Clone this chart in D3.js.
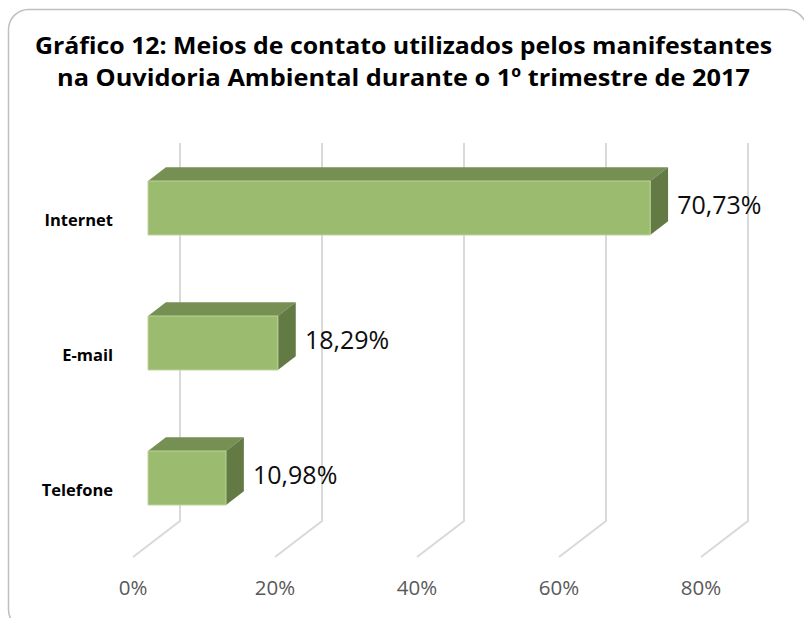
<!DOCTYPE html>
<html>
<head>
<meta charset="utf-8">
<script src="https://cdn.jsdelivr.net/npm/d3@7"></script>
<style>
  html, body { margin: 0; padding: 0; background: #fff; }
  svg { display: block; }
</style>
</head>
<body>
<svg id="chart" width="804" height="618"></svg>
<script>
// ---- data ----
const categories = ["Internet", "E-mail", "Telefone"];
const values = [70.73, 18.29, 10.98];
const valueLabels = ["70,73%", "18,29%", "10,98%"];
const tickValues = [0, 20, 40, 60, 80];
const tickLabels = ["0%", "20%", "40%", "60%", "80%"];
const titleLines = [
  "Gráfico 12: Meios de contato utilizados pelos manifestantes",
  "na Ouvidoria Ambiental durante o 1º trimestre de 2017"
];

// ---- layout ----
const W = 804, H = 618;
const svg = d3.select("#chart");
const font = "'Open Sans', 'DejaVu Sans', sans-serif";

// 3D projection parameters
const DX = 47, DY = -36;          // full depth offset (front -> back)
const floorY = 557;               // front floor line
const wallTop = 143;              // top of back wall
const x = d3.scaleLinear().domain([0, 80]).range([133, 133 + 568]);
const y = d3.scaleBand().domain(categories).range([152, floorY])
  .paddingInner(0.6).paddingOuter(0.3);
const f1 = 0.32, f2 = 0.70;       // bar depth fractions

function P(v, yy, f) { return [x(v) + f * DX, yy + f * DY]; }

// border
svg.append("rect")
  .attr("x", 8.5).attr("y", 9.5)
  .attr("width", 798).attr("height", 620)
  .attr("rx", 20).attr("ry", 20)
  .attr("fill", "#fff")
  .attr("stroke", "#bfbfbf").attr("stroke-width", 1.5);

// title
svg.selectAll("text.title").data(titleLines).enter().append("text")
  .attr("class", "title")
  .attr("x", 403.5)
  .attr("y", (d, i) => 54 + i * 32)
  .attr("text-anchor", "middle")
  .attr("font-family", font)
  .attr("font-weight", "bold")
  .attr("font-size", 24)
  .attr("fill", "#000")
  .attr("textLength", (d, i) => i === 0 ? 737 : 693)
  .attr("lengthAdjust", "spacingAndGlyphs")
  .text(d => d);

// gridlines on back wall + floor diagonals
const grid = svg.append("g");
tickValues.forEach(t => {
  const [bx, by] = P(t, floorY, 1);
  const [fx, fy] = P(t, floorY, 0);
  grid.append("path")
    .attr("d", `M${bx},${wallTop}L${bx},${by}L${fx},${fy}`)
    .attr("fill", "none")
    .attr("stroke", "#d9d9d9")
    .attr("stroke-width", 2);
});

// tick labels
svg.selectAll("text.tick").data(tickValues).enter().append("text")
  .attr("class", "tick")
  .attr("x", d => x(d))
  .attr("y", 587)
  .attr("text-anchor", "middle")
  .attr("dominant-baseline", "central")
  .attr("font-family", font)
  .attr("font-size", 20.5)
  .attr("fill", "#595959")
  .text((d, i) => tickLabels[i]);

// bars
const bars = svg.append("g");
categories.forEach((c, i) => {
  const v = values[i];
  const top = y(c), bot = y(c) + y.bandwidth();
  const ftl = P(0, top, f1), ftr = P(v, top, f1), fbr = P(v, bot, f1), fbl = P(0, bot, f1);
  const btl = P(0, top, f2), btr = P(v, top, f2), bbr = P(v, bot, f2);
  // top face
  bars.append("path")
    .attr("d", `M${ftl}L${ftr}L${btr}L${btl}Z`)
    .attr("fill", "#768f53");
  // side face
  bars.append("path")
    .attr("d", `M${ftr}L${btr}L${bbr}L${fbr}Z`)
    .attr("fill", "#637a45");
  // front face
  bars.append("path")
    .attr("d", `M${ftl}L${ftr}L${fbr}L${fbl}Z`)
    .attr("fill", "#9bbb6f")
    .attr("stroke", "#bcd29a").attr("stroke-width", 1);
  // value label
  bars.append("text")
    .attr("x", ftr[0] + 27)
    .attr("y", (ftr[1] + fbr[1]) / 2 - 4)
    .attr("dominant-baseline", "central")
    .attr("font-family", font)
    .attr("font-size", 25)
    .attr("fill", "#0d0d0d")
    .text(valueLabels[i]);
});

// category labels
svg.selectAll("text.cat").data(categories).enter().append("text")
  .attr("class", "cat")
  .attr("x", 113)
  .attr("y", d => y(d) + y.bandwidth() / 2)
  .attr("text-anchor", "end")
  .attr("dominant-baseline", "central")
  .attr("font-family", font)
  .attr("font-weight", "bold")
  .attr("font-size", 16.5)
  .attr("fill", "#000")
  .text(d => d);
</script>
</body>
</html>
